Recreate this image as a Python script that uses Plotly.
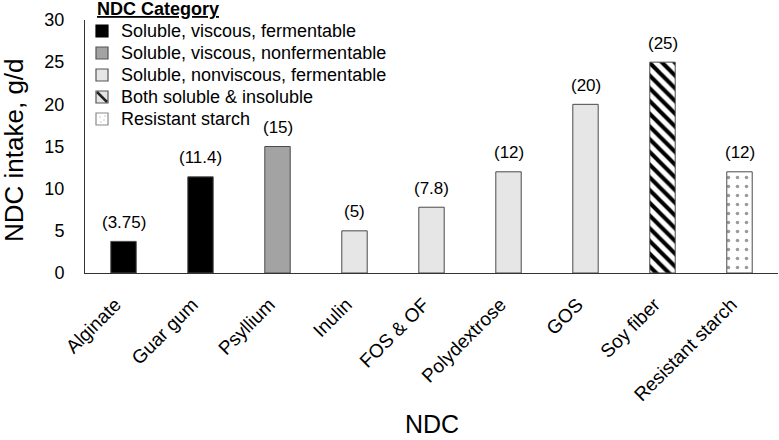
import plotly.graph_objects as go

categories = ["Alginate", "Guar gum", "Psyllium", "Inulin", "FOS & OF",
              "Polydextrose", "GOS", "Soy fiber", "Resistant starch"]
values = [3.75, 11.4, 15, 5, 7.8, 12, 20, 25, 12]
labels = ["(3.75)", "(11.4)", "(15)", "(5)", "(7.8)", "(12)", "(20)", "(25)", "(12)"]
groups = ["Soluble, viscous, fermentable", "Soluble, viscous, fermentable",
          "Soluble, viscous, nonfermentable",
          "Soluble, nonviscous, fermentable", "Soluble, nonviscous, fermentable",
          "Soluble, nonviscous, fermentable", "Soluble, nonviscous, fermentable",
          "Both soluble & insoluble", "Resistant starch"]
group_order = ["Soluble, viscous, fermentable", "Soluble, viscous, nonfermentable",
               "Soluble, nonviscous, fermentable", "Both soluble & insoluble",
               "Resistant starch"]
yticks = [0, 5, 10, 15, 20, 25, 30]

styles = {
    "Soluble, viscous, fermentable": dict(color="#000000", pattern=None),
    "Soluble, viscous, nonfermentable": dict(color="#a3a3a3", pattern=None),
    "Soluble, nonviscous, fermentable": dict(color="#e6e6e6", pattern=None),
    "Both soluble & insoluble": dict(color="#ffffff",
                                     pattern=dict(shape="\\", fgcolor="#000000", bgcolor="#ffffff",
                                                  size=9, solidity=0.45, fillmode="replace")),
    "Resistant starch": dict(color="#ffffff",
                             pattern=dict(shape=".", fgcolor="#9a9a9a", bgcolor="#ffffff",
                                          size=9, solidity=0.12, fillmode="replace")),
}

FONT = "Liberation Sans, Arial, Helvetica, sans-serif"
W, H = 779, 440
ML, MR, MT, MB = 85, 1, 0, 167
PW = W - ML - MR
PH = H - MT - MB
PLOT_TOP = 20


def px_x(px):
    return (px - ML) / PW


def px_y(py):
    return (PH - (py - MT)) / PH


fig = go.Figure()
for g in group_order:
    xs = [c for c, gg in zip(categories, groups) if gg == g]
    ys = [v for v, gg in zip(values, groups) if gg == g]
    st = styles[g]
    marker = dict(color=st["color"], line=dict(color="#4a4a4a", width=1))
    if st["pattern"]:
        marker["pattern"] = st["pattern"]
    fig.add_trace(go.Bar(x=xs, y=ys, name=g, marker=marker, width=0.33, showlegend=False))

for c, v, t in zip(categories, values, labels):
    fig.add_annotation(x=c, y=v, text=t, showarrow=False, yanchor="middle", yshift=19,
                       font=dict(size=17, color="#000000", family=FONT))

# axis titles
fig.add_annotation(x=0.5, y=px_y(424), xref="paper", yref="paper", text="NDC",
                   showarrow=False, xanchor="center", yanchor="middle",
                   font=dict(size=25, family=FONT, color="#000000"))
fig.add_annotation(x=px_x(14), y=px_y(150), xref="paper", yref="paper",
                   text="NDC intake, g/d", textangle=-90,
                   showarrow=False, xanchor="center", yanchor="middle",
                   font=dict(size=26, family=FONT, color="#000000"))

# legend (drawn as keys + text)
fig.add_annotation(x=px_x(95), y=px_y(9), xref="paper", yref="paper",
                   text="<b><u>NDC Category</u></b>", showarrow=False,
                   xanchor="left", yanchor="middle",
                   font=dict(size=18, family=FONT, color="#000000"))
key_fill = ["#000000", "#a3a3a3", "#e6e6e6", "#e6e6e6", "#ffffff"]
key_line = ["#000000", "#555555", "#555555", "#555555", "#8a8a8a"]
for i, g in enumerate(group_order):
    cy = 31 + 22 * i
    fig.add_shape(type="rect", xref="paper", yref="paper",
                  x0=px_x(96), x1=px_x(108), y0=px_y(cy + 6), y1=px_y(cy - 6),
                  fillcolor=key_fill[i], line=dict(color=key_line[i], width=1.2))
    fig.add_annotation(x=px_x(119), y=px_y(cy), xref="paper", yref="paper",
                       text=g, showarrow=False, xanchor="left", yanchor="middle",
                       font=dict(size=18, family=FONT, color="#000000"))
cy = 31 + 22 * 3
fig.add_shape(type="line", xref="paper", yref="paper",
              x0=px_x(97), y0=px_y(cy - 5), x1=px_x(107), y1=px_y(cy + 5),
              line=dict(color="#222222", width=2.5))
cy = 31 + 22 * 4
for dx, dy in [(-2, -2), (2, 1), (-1, 3), (3, -3)]:
    fig.add_shape(type="rect", xref="paper", yref="paper",
                  x0=px_x(102 + dx - 0.5), x1=px_x(102 + dx + 0.5),
                  y0=px_y(cy + dy + 0.5), y1=px_y(cy + dy - 0.5),
                  fillcolor="#999999", line=dict(width=0))

fig.update_layout(
    width=W, height=H,
    margin=dict(l=ML, r=MR, t=MT, b=MB, autoexpand=False),
    plot_bgcolor="white", paper_bgcolor="white",
    barmode="relative",
    font=dict(family=FONT, color="#000000"),
    showlegend=False,
)
fig.update_xaxes(
    categoryorder="array", categoryarray=categories,
    tickangle=-45, tickfont=dict(size=19, family=FONT),
    showline=True, linecolor="#333333", linewidth=1, ticks="", automargin=False,
    ticklabelstandoff=12, ticklabelshift=-8,
)
fig.update_yaxes(
    range=[0, 30], tickvals=yticks, tickfont=dict(size=18, family=FONT),
    domain=[0, (PH - PLOT_TOP) / PH],
    showline=True, linecolor="#333333", linewidth=1, ticks="", showgrid=False,
    zeroline=False, ticklabelstandoff=16, automargin=False,
)
fig.write_html("out.html", config={"displayModeBar": False},
               post_script="document.body.style.margin='0';")
